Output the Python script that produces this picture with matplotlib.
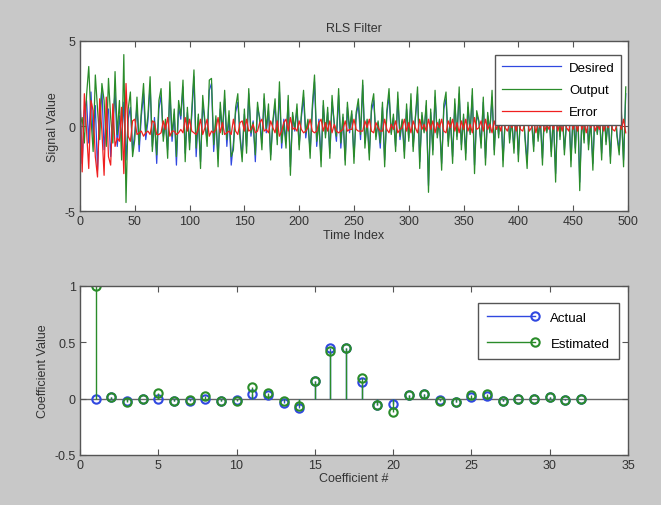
import matplotlib
matplotlib.use('Agg')
import matplotlib.pyplot as plt
from matplotlib.lines import Line2D
from matplotlib.legend_handler import HandlerLine2D

# ---- data ----
# time index (every other sample)
time_idx = list(range(0, 500, 2))

desired = [
  1.8, -2.2, 0.9, 1.5, -1.0, 2.0, -0.6, 1.2, -2.6, 0.8, 2.2, -1.4, 0.5, 1.0, -1.8, 0.3, 2.0, -1.2, 0.6, -0.9, 1.4, -2.0, 0.4, 1.1, -1.5,
  -0.4, 1.2, -1.5, 0.6, 1.9, -0.8, 0.3, 2.4, -1.2, 0.5, -2.2, 1.0, 1.8, -0.6, 0.2, -1.4, 2.0, -0.9, 0.7, -2.3, 1.1, 0.4, 2.3, -1.6, 0.8,
  -1.0, 0.6, 2.9, -1.8, 0.5, -2.1, 1.3, 0.2, -0.8, 2.1, 2.5, -1.5, 0.4, -1.9, 1.0, -0.3, 1.6, -1.2, 0.6, -2.3, -1.0, 0.8, 1.4, -0.5, -1.8,
  0.7, -1.2, 1.9, -0.6, 0.3, -2.1, 1.1, 0.5, -1.0, 1.6, -0.4, 0.9, -1.7, 0.2, 1.2, -0.8, 2.0, -1.3, 0.4, -0.9, 1.5, -2.4, 0.6, -0.3, 1.0,
  -1.1, 0.5, 1.7, -0.7, 0.3, -1.5, 0.9, 2.6, -1.2, 0.4, -2.0, 1.2, -0.5, 0.8, -1.6, 1.4, 0.2, -0.9, 1.8, -1.3, 0.5, -2.0, 1.1, -0.4, 0.7,
  -1.8, 0.6, 1.3, -0.8, 2.4, -1.0, 0.3, -1.6, 0.9, 1.5, -0.6, 0.2, -1.3, 1.1, -2.0, 0.7, 1.8, -0.4, 0.5, -1.2, 1.6, -0.8, 0.3, -1.5, 1.0,
  -0.7, 1.5, -1.2, 0.4, 1.9, -2.1, 0.6, -0.3, 1.2, -3.5, 0.8, -1.4, 1.7, -0.5, 0.3, -2.2, 1.0, 1.6, -0.9, 0.4, -1.8, 1.3, -0.6, 1.9, -1.1,
  0.5, -1.6, 1.1, -0.4, 1.8, -2.3, 0.7, 0.2, -1.0, 1.4, -1.9, 0.6, -0.3, 1.7, -1.4, 0.9, -0.5, 1.2, -2.0, 0.4, 1.5, -0.8, 0.3, -1.3, 1.0,
  -1.7, 0.6, 1.2, -0.5, -2.1, 0.9, 0.3, -1.2, 1.6, -0.7, 0.4, -1.9, 1.1, -0.3, 0.8, -1.5, 0.5, -2.8, 1.3, -0.6, 0.9, -1.4, 0.2, 1.0, -2.0,
  0.7, -1.3, 1.4, -3.3, 0.5, -0.8, 1.6, -1.1, 0.3, -2.2, 1.0, -0.4, 0.6, -1.6, 1.2, -0.9, 0.4, -1.8, 0.8, 1.3, -0.5, -1.4, 0.7, -2.0, 1.9,
]

output = [
  0.0, 0.5, -1.0, 1.8, 3.5, 0.5, -1.5, 3.0, 1.0, -0.8, 2.5, 1.5, -1.2, 2.8, 0.5, -1.0, 3.2, -0.5, 1.5, -2.0, 4.2, -4.5, 1.0, 2.0, -1.8,
  -0.8, 1.7, -1.1, 0.9, 2.5, -0.4, 0.6, 2.9, -1.5, 0.3, -1.7, 1.5, 2.2, -0.9, 0.4, -1.9, 2.6, -0.6, 1.0, -1.8, 1.5, 0.6, 2.7, -2.1, 1.1,
  -1.4, 0.9, 3.3, -1.3, 0.7, -2.5, 1.8, 0.3, -1.2, 2.7, 2.8, -1.1, 0.6, -2.4, 1.4, -0.5, 2.1, -0.8, 0.9, -1.8, -1.4, 1.1, 1.9, -0.7, -2.1,
  1.0, -1.6, 2.2, -0.4, 0.2, -1.7, 1.4, 0.3, -1.4, 1.9, -0.2, 1.3, -2.0, 0.3, 1.6, -1.1, 2.6, -1.0, 0.2, -1.3, 1.8, -2.9, 0.8, -0.2, 1.3,
  -1.4, 0.7, 2.1, -0.4, 0.4, -1.9, 1.2, 3.0, -0.9, 0.2, -2.4, 1.5, -0.7, 1.1, -1.9, 1.8, 0.1, -0.6, 2.2, -1.0, 0.7, -2.3, 1.4, -0.2, 0.9,
  -2.2, 0.8, 1.6, -0.5, 2.7, -1.3, 0.4, -2.0, 1.2, 1.9, -0.8, 0.3, -1.0, 1.4, -2.4, 0.9, 2.2, -0.5, 0.7, -1.5, 2.0, -0.6, 0.4, -1.9, 1.3,
  -0.9, 1.9, -1.5, 0.5, 2.3, -2.5, 0.8, -0.4, 1.5, -3.9, 1.0, -1.7, 2.1, -0.7, 0.4, -2.6, 1.3, 2.0, -1.2, 0.5, -2.2, 1.6, -0.8, 2.3, -1.4,
  0.7, -2.0, 1.4, -0.5, 2.2, -2.8, 0.9, 0.3, -1.3, 1.7, -2.3, 0.8, -0.4, 2.1, -1.7, 1.1, -0.7, 1.5, -2.4, 0.5, 1.8, -1.0, 0.4, -1.6, 1.3,
  -2.1, 0.8, 1.5, -0.7, -2.5, 1.2, 0.4, -1.5, 2.0, -0.9, 0.5, -2.3, 1.4, -0.4, 1.0, -1.8, 0.7, -3.3, 1.6, -0.8, 1.2, -1.7, 0.3, 1.3, -2.4,
  0.9, -1.6, 1.7, -3.8, 0.7, -1.0, 2.0, -1.4, 0.4, -2.6, 1.3, -0.5, 0.8, -2.0, 1.5, -1.1, 0.5, -2.2, 1.0, 1.6, -0.6, -1.7, 0.9, -2.4, 2.3,
]

error = [
  1.8, -2.7, 1.9, -0.3, -2.5, 1.5, 0.9, -1.8, -3.0, 1.6, -0.3, -2.9, 1.7, -1.8, -2.3, 1.3, -1.2, -0.7, -0.9, 1.1, -2.8, 2.5, -0.6, -0.9, 0.3,
  0.4, -0.5, -0.4, -0.3, -0.6, -0.4, -0.3, -0.5, 0.3, 0.2, -0.5, -0.5, -0.4, 0.3, -0.2, 0.5, -0.6, -0.3, -0.3, -0.5, -0.4, -0.2, -0.4, 0.5, -0.3,
  0.4, -0.3, -0.4, -0.5, -0.2, 0.4, -0.5, -0.1, 0.4, -0.6, -0.3, -0.4, -0.2, 0.5, -0.4, 0.2, -0.5, -0.4, -0.3, -0.5, 0.4, -0.3, -0.5, 0.2, 0.3,
  -0.3, 0.4, -0.3, -0.2, 0.1, -0.4, -0.3, 0.2, 0.4, -0.3, -0.2, -0.4, 0.3, -0.1, -0.4, 0.3, -0.6, -0.3, 0.2, 0.4, -0.3, 0.5, -0.2, -0.1, -0.3,
  0.3, -0.2, -0.4, -0.3, -0.1, 0.4, -0.3, -0.4, -0.3, 0.2, 0.4, -0.3, 0.2, -0.3, 0.3, -0.4, 0.1, -0.3, -0.4, -0.3, -0.2, 0.3, -0.3, -0.2, -0.2,
  0.4, -0.2, -0.3, -0.3, -0.3, 0.3, -0.1, 0.4, -0.3, -0.4, 0.2, -0.1, -0.3, -0.3, 0.4, -0.2, -0.4, 0.1, -0.2, 0.3, -0.4, -0.2, -0.1, 0.4, -0.3,
  0.2, -0.4, 0.3, -0.1, -0.4, 0.4, -0.2, 0.1, -0.3, 0.4, -0.2, 0.3, -0.4, 0.2, -0.1, 0.4, -0.3, -0.4, 0.3, -0.1, 0.4, -0.3, 0.2, -0.4, 0.3,
  -0.2, 0.4, -0.3, 0.1, -0.4, 0.5, -0.2, -0.1, 0.3, -0.3, 0.4, -0.2, 0.1, -0.4, 0.3, -0.2, 0.2, -0.3, 0.4, -0.1, -0.3, 0.2, -0.1, 0.3, -0.3,
  0.4, -0.2, -0.3, 0.2, 0.4, -0.3, -0.1, 0.3, -0.4, 0.2, -0.1, 0.4, -0.3, 0.1, -0.2, 0.3, -0.2, 0.5, -0.3, 0.2, -0.3, 0.3, -0.1, -0.3, 0.4,
  -0.2, 0.3, -0.3, 0.5, -0.2, 0.2, -0.4, 0.3, -0.1, 0.4, -0.3, 0.1, -0.2, 0.4, -0.3, 0.2, -0.1, 0.4, -0.2, -0.3, 0.1, 0.3, -0.2, 0.4, -0.4,
]

coef_idx = list(range(1, 33))
coef_actual = [0.0, 0.01, -0.02, 0.0, 0.0, -0.02, -0.02, 0.0, -0.02, -0.01, 0.04, 0.03,
               -0.04, -0.08, 0.16, 0.45, 0.45, 0.15, -0.06, -0.05, 0.03, 0.04, -0.01, -0.03,
               0.01, 0.02, -0.02, 0.0, 0.0, 0.01, -0.01, 0.0]
coef_est = [1.0, 0.01, -0.03, 0.0, 0.05, -0.02, -0.01, 0.02, -0.02, -0.02, 0.1, 0.05,
            -0.02, -0.07, 0.16, 0.42, 0.45, 0.18, -0.06, -0.12, 0.03, 0.04, -0.02, -0.03,
            0.03, 0.04, -0.02, 0.0, 0.0, 0.01, -0.01, 0.0]

plt.rcParams['font.family'] = ['Liberation Sans', 'DejaVu Sans']
plt.rcParams['font.size'] = 9
plt.rcParams['axes.unicode_minus'] = False

c_blue = '#3048e0'
c_green = '#2a8c2a'
c_red = '#f02020'
c_axis = '#555555'
c_text = '#333333'

fig = plt.figure(figsize=(6.61, 5.06), dpi=100, facecolor='#c8c8c8')


def matlab_style(ax):
  ax.set_facecolor('white')
  for s in ax.spines.values():
    s.set_color(c_axis)
    s.set_linewidth(1.0)
  ax.tick_params(direction='in', top=True, right=True, length=4, width=0.8,
                 color=c_axis, labelcolor=c_text, pad=3)


# stem legend: marker sits at the right end of the line, like MATLAB
class EndMarker(HandlerLine2D):
  def create_artists(self, *args, **kwargs):
    arts = super().create_artists(*args, **kwargs)
    for a in arts:
      a.set_markevery([len(a.get_xdata()) - 1])
    return arts


# ---- top: signals ----
ax1 = fig.add_axes([0.121, 0.581, 0.829, 0.336])
matlab_style(ax1)
ax1.plot(time_idx, desired, color=c_blue, lw=0.9, label='Desired')
ax1.plot(time_idx, output, color=c_green, lw=0.9, label='Output')
ax1.plot(time_idx, error, color=c_red, lw=0.9, label='Error')
ax1.set_xlim(0, 500)
ax1.set_ylim(-5, 5)
ax1.set_xticks(range(0, 501, 50))
ax1.set_yticks([-5, 0, 5])
ax1.set_title('RLS Filter', fontsize=9, color=c_text, pad=7)
ax1.set_xlabel('Time Index', color=c_text, labelpad=1)
ax1.set_ylabel('Signal Value', color=c_text, labelpad=4)
leg1 = ax1.legend(loc='upper right', bbox_to_anchor=(1.0, 0.955), fancybox=False,
                  framealpha=1, edgecolor='#555555', handlelength=4.5, fontsize=9.5,
                  borderpad=0.5, labelspacing=0.75, handletextpad=0.6)
leg1.get_frame().set_linewidth(1.0)

# ---- bottom: coefficients ----
ax2 = fig.add_axes([0.121, 0.099, 0.829, 0.334])
matlab_style(ax2)
ax2.axhline(0, color='#666666', lw=1.0, zorder=1)
m1, s1, b1 = ax2.stem(coef_idx, coef_actual, linefmt='-', markerfmt='o', basefmt=' ')
plt.setp(s1, color=c_blue, linewidth=1.0)
plt.setp(m1, markeredgecolor=c_blue, markerfacecolor='none', markersize=6, markeredgewidth=1.5)
m2, s2, b2 = ax2.stem(coef_idx, coef_est, linefmt='-', markerfmt='o', basefmt=' ')
plt.setp(s2, color=c_green, linewidth=1.0)
plt.setp(m2, markeredgecolor=c_green, markerfacecolor='none', markersize=6, markeredgewidth=1.5)
ax2.set_xlim(0, 35)
ax2.set_ylim(-0.5, 1)
ax2.set_xticks(range(0, 36, 5))
ax2.set_yticks([-0.5, 0, 0.5, 1])
ax2.set_yticklabels(['-0.5', '0', '0.5', '1'])
ax2.set_xlabel('Coefficient #', color=c_text, labelpad=1)
ax2.set_ylabel('Coefficient Value', color=c_text, labelpad=4)

h_act = Line2D([], [], color=c_blue, lw=1.0, marker='o', markersize=6,
               markerfacecolor='none', markeredgewidth=1.5)
h_est = Line2D([], [], color=c_green, lw=1.0, marker='o', markersize=6,
               markerfacecolor='none', markeredgewidth=1.5)
leg2 = ax2.legend([h_act, h_est], ['Actual', 'Estimated'], loc='upper right',
                  bbox_to_anchor=(0.995, 0.94), fancybox=False, framealpha=1,
                  edgecolor='#555555', handlelength=3.6, fontsize=9.5,
                  borderpad=0.7, labelspacing=1.0, handletextpad=1.2,
                  handler_map={h_act: EndMarker(), h_est: EndMarker()})
leg2.get_frame().set_linewidth(1.0)

fig.savefig('out.png', dpi=100, facecolor=fig.get_facecolor())
